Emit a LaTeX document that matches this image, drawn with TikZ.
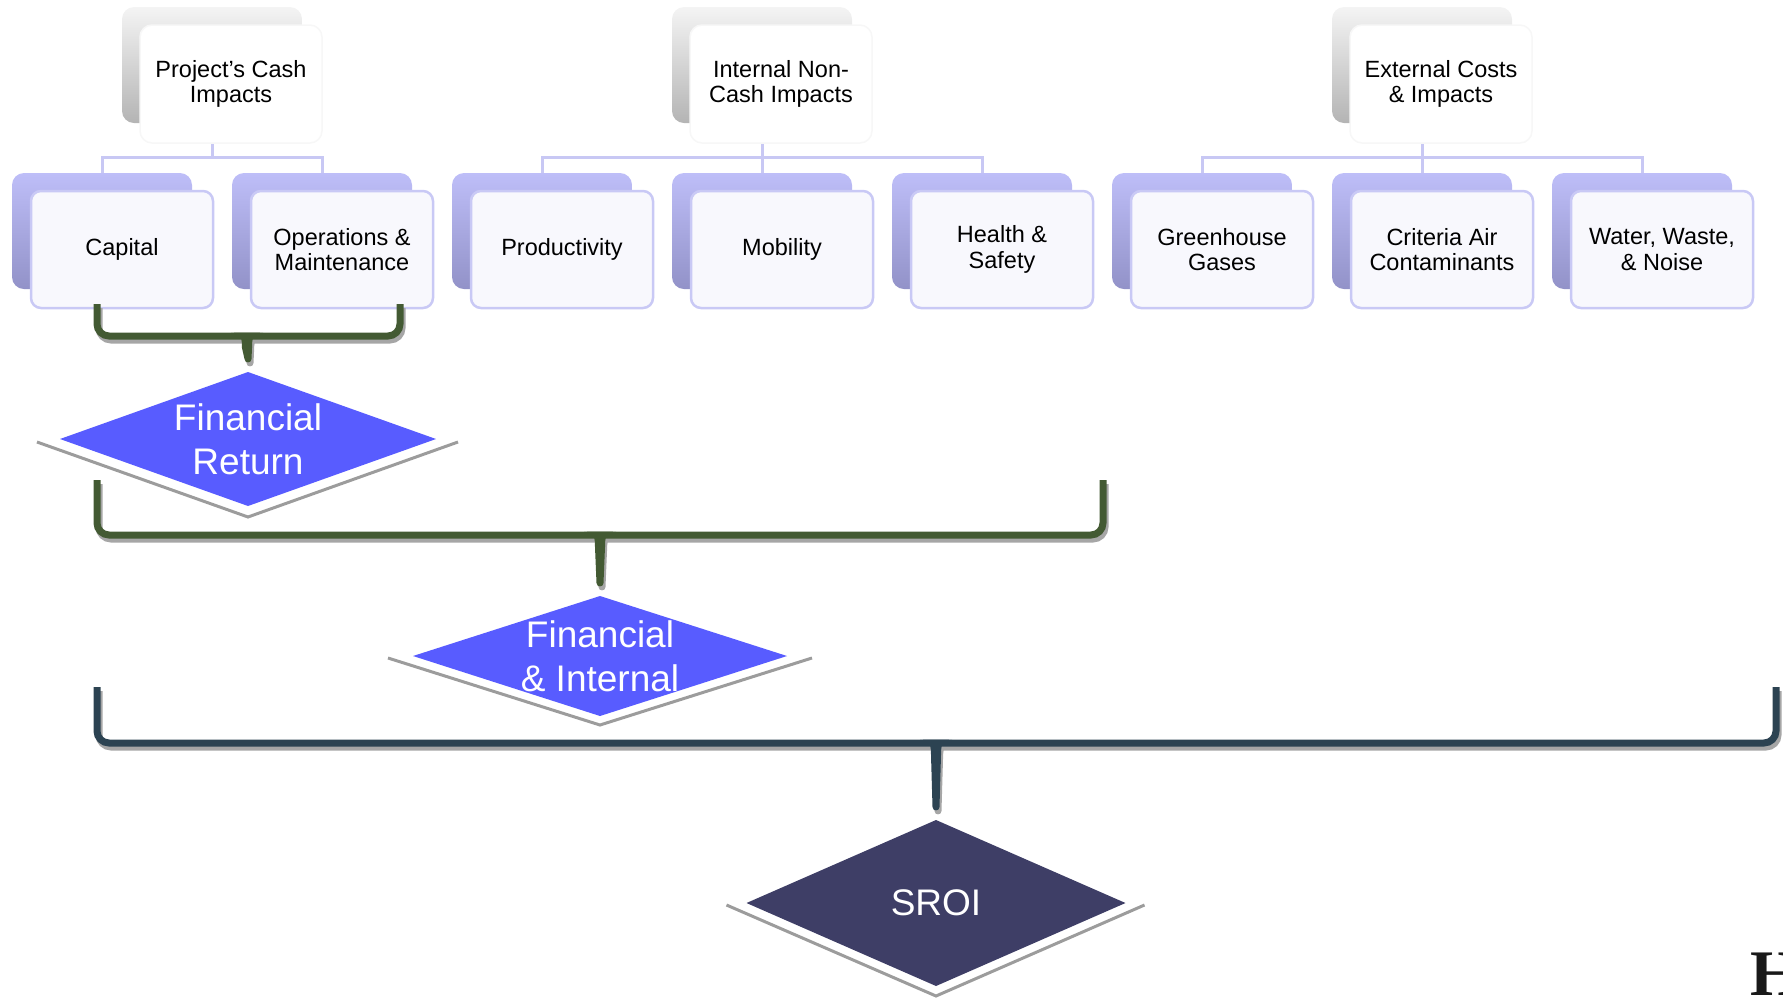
\documentclass[tikz,border=0pt]{standalone}
\usepackage{fontspec}
\setmainfont{Liberation Sans}
\newfontfamily\serifbold{Liberation Serif}
\usetikzlibrary{shapes.geometric,calc}
\definecolor{lavtop}{HTML}{BEBEF8}
\definecolor{lavbot}{HTML}{9292C8}
\definecolor{frontfill}{HTML}{F8F8FD}
\definecolor{lavborder}{HTML}{C9C9F5}
\definecolor{conncol}{HTML}{C8C8F4}
\definecolor{hdrtop}{HTML}{F4F4F4}
\definecolor{hdrbot}{HTML}{B4B4B4}
\definecolor{braceg}{HTML}{435A33}
\definecolor{braced}{HTML}{2C4352}
\definecolor{dblue}{HTML}{585CFF}
\definecolor{dsroi}{HTML}{3E3E66}
\definecolor{bshadow}{HTML}{A6A6A6}
\definecolor{dshadow}{HTML}{9C9C9C}
\newcommand\mybrace[5]{% #1 left arm top, #2 middle, #3 right arm top, #4 diamond, #5 colour
  \coordinate (se) at ($(#4.north)+(0,-10)$);
  \begin{scope}[transform canvas={shift={(2,4)}}]
    \draw[bshadow, line width=7, rounded corners=12] (#1) |- (#2) -| (#3);
    \fill[bshadow] ($(#2)+(-16,-3.5)$) .. controls ($(#2)+(-6,-3.5)$) and ($(#2)+(-5,2)$) .. ($(#2)+(-5,12)$)
      -- ($(se)+(-3.5,-3)$) .. controls ($(se)+(-3.5,1.5)$) and ($(se)+(3.5,1.5)$) .. ($(se)+(3.5,-3)$)
      -- ($(#2)+(5,12)$) .. controls ($(#2)+(5,2)$) and ($(#2)+(6,-3.5)$) .. ($(#2)+(16,-3.5)$) -- cycle;
  \end{scope}
  \draw[#5, line width=7, rounded corners=12] (#1) |- (#2) -| (#3);
  \fill[#5] ($(#2)+(-16,-3.5)$) .. controls ($(#2)+(-6,-3.5)$) and ($(#2)+(-5,2)$) .. ($(#2)+(-5,12)$)
    -- ($(se)+(-3.5,-3)$) .. controls ($(se)+(-3.5,1.5)$) and ($(se)+(3.5,1.5)$) .. ($(se)+(3.5,-3)$)
    -- ($(#2)+(5,12)$) .. controls ($(#2)+(5,2)$) and ($(#2)+(6,-3.5)$) .. ($(#2)+(16,-3.5)$) -- cycle;
}
\begin{document}
\begin{tikzpicture}[x=1pt,y=-1pt,
  boxfont/.style={font=\fontsize{23.5}{25.5}\selectfont},
  hdrback/.style={rounded corners=12, minimum width=180, minimum height=116, inner sep=0, top color=hdrtop, bottom color=hdrbot},
  hdrfront/.style={rounded corners=12, minimum width=182, minimum height=118, inner sep=0, fill=white, draw=black!3, line width=1.5, align=center, boxfont},
  chback/.style={rounded corners=12, minimum width=180, minimum height=116, inner sep=0, top color=lavtop, bottom color=lavbot},
  chfront/.style={rounded corners=10, minimum width=182, minimum height=117, inner sep=0, fill=frontfill, draw=lavborder, line width=2.5, align=center, boxfont},
  conn/.style={conncol, line width=3},
  dia/.style={diamond, inner sep=0, outer sep=0},
  dtext/.style={text=white, align=center, inner sep=0, font=\fontsize{37}{44}\selectfont},
  dshad/.style={dshadow, line width=3}]
\useasboundingbox (0,0) rectangle (1783,997);

% headers (back plates)
\node[hdrback] (hb1) at (212,65) {};
\node[hdrback] (hb2) at (762,65) {};
\node[hdrback] (hb3) at (1422,65) {};

% children back plates
\foreach \i/\L in {1/12,2/232,3/452,4/672,5/892,6/1112,7/1332,8/1552}{
  \node[chback] (cb\i) at (\L+90,231) {};
}

% connectors
\draw[conn] (hb1.south) -- ++(0,34) coordinate (j1);
\draw[conn] (cb1.north) |- (j1) -| (cb2.north);
\draw[conn] (hb2.south) -- ++(0,34) coordinate (j2);
\draw[conn] (cb3.north) |- (j2) -| (cb5.north);
\draw[conn] (j2) -- (cb4.north);
\draw[conn] (hb3.south) -- ++(0,34) coordinate (j3);
\draw[conn] (cb6.north) |- (j3) -| (cb8.north);
\draw[conn] (j3) -- (cb7.north);

% header fronts
\node[hdrfront] (h1) at (231,84) {Project’s Cash\\Impacts};
\node[hdrfront] (h2) at (781,84) {Internal Non-\\Cash Impacts};
\node[hdrfront] (h3) at (1441,84) {External Costs\\\& Impacts};

% children fronts
\node[chfront] (c1) at (122,249.5) {Capital};
\node[chfront] (c2) at (342,249.5) {Operations \&\\Maintenance};
\node[chfront] (c3) at (562,249.5) {Productivity};
\node[chfront] (c4) at (782,249.5) {Mobility};
\node[chfront] (c5) at (1002,249.5) {Health \&\\Safety};
\node[chfront] (c6) at (1222,249.5) {Greenhouse\\Gases};
\node[chfront] (c7) at (1442,249.5) {Criteria Air\\Contaminants};
\node[chfront] (c8) at (1662,249.5) {Water, Waste,\\\& Noise};

% diamonds
\node[dia, fill=dblue, minimum width=376, minimum height=134] (d1) at (248,439) {};
\node[dia, fill=dblue, minimum width=374, minimum height=120] (d2) at (600,656) {};
\node[dia, fill=dsroi, minimum width=379, minimum height=166] (d3) at (936,903) {};

% diamond shadows
\draw[dshad] ($(d1.west)+(-23,3)$) -- ($(d1.south)+(0,11)$) -- ($(d1.east)+(22,3)$);
\draw[dshad] ($(d2.west)+(-25,2)$) -- ($(d2.south)+(0,9)$) -- ($(d2.east)+(25,2)$);
\draw[dshad] ($(d3.west)+(-20,2)$) -- ($(d3.south)+(0,10)$) -- ($(d3.east)+(19,2)$);

% diamond texts
\node[dtext] (t1) at (d1) {Financial\\Return};
\node[dtext] (t2) at (d2) {Financial\\\& Internal};
\node[dtext] (t3) at (d3) {SROI};

% braces
\coordinate (b1L) at (97,304);
\coordinate (b1M) at (247,336);
\coordinate (b1R) at (400,304);
\mybrace{b1L}{b1M}{b1R}{d1}{braceg}
\coordinate (b2L) at (97,480);
\coordinate (b2M) at (600,535);
\coordinate (b2R) at (1103,480);
\mybrace{b2L}{b2M}{b2R}{d2}{braceg}
\coordinate (b3L) at (97,687);
\coordinate (b3M) at (936,743);
\coordinate (b3R) at (1776,687);
\mybrace{b3L}{b3M}{b3R}{d3}{braced}

% cut-off letter at the lower right
\node[anchor=base west, inner sep=0, font=\serifbold\bfseries\fontsize{65}{65}\selectfont, text=black!90] (hh) at (1750,995) {H};
\end{tikzpicture}
\end{document}
